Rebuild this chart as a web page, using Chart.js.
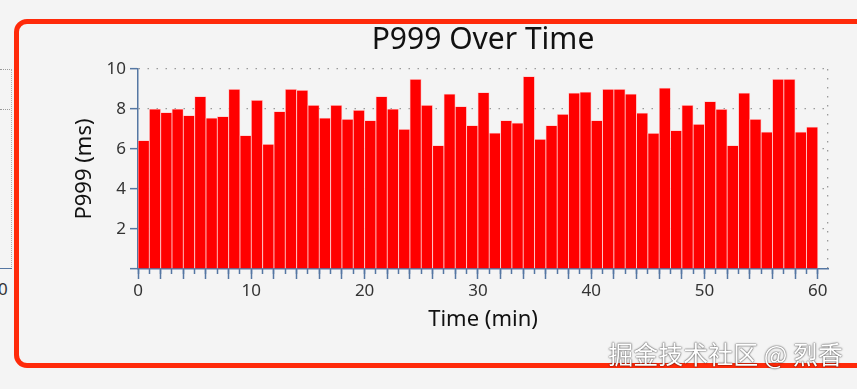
<!DOCTYPE html>
<html>
<head>
<meta charset="utf-8">
<script src="https://cdn.jsdelivr.net/npm/chart.js@4.4.1/dist/chart.umd.min.js"></script>
<style>
  html, body { margin: 0; padding: 0; background: #f4f4f4; overflow: hidden; }
  #wrap { position: relative; width: 857px; height: 389px; }
  #chP999 { position: absolute; left: 0; top: 0; }
  .frame { position: absolute; left: 14px; top: 19px; width: 880px; height: 339px;
           border: 5px solid #ff2a0a; border-radius: 13px; box-sizing: content-box; }
  .side-dot { position: absolute; left: 0; width: 10px; border-top: 1.5px dotted #9a9a9a; }
  .side-axis { position: absolute; left: 0; top: 268px; width: 12px; border-top: 1.5px solid #5577a3; }
  .side-vert { position: absolute; left: 11px; top: 69px; height: 200px; border-left: 1.5px dotted #b0b0b0; }
  .side-lbl { position: absolute; left: -2px; top: 277px; font: 17px "Noto Sans", sans-serif; color: #333; }
  .mark { position: absolute; right: 14px; top: 335px; font: 25px "Noto Sans CJK SC", sans-serif;
          color: #fff; text-shadow: 0 0 2px rgba(0,0,0,.7), 0 0 1px rgba(0,0,0,.6); }
</style>
</head>
<body>
<div id="wrap">
  <div class="side-dot" style="top:69px"></div>
  <div class="side-dot" style="top:109px"></div>
  <div class="side-vert"></div>
  <div class="side-axis"></div>
  <div class="side-lbl">0</div>
  <canvas id="chP999" width="857" height="389"></canvas>
  <div class="frame"></div>
  <div class="mark">掘金技术社区 @ 烈香</div>
</div>
<script>
var minutes = [0,1,2,3,4,5,6,7,8,9,10,11,12,13,14,15,16,17,18,19,
               20,21,22,23,24,25,26,27,28,29,30,31,32,33,34,35,36,37,38,39,
               40,41,42,43,44,45,46,47,48,49,50,51,52,53,54,55,56,57,58,59];
var p999 = [6.42,8.0,7.82,8.0,7.67,8.62,7.55,7.62,8.98,6.67,8.43,6.23,7.87,8.98,8.93,8.18,7.55,8.18,7.48,7.93,
            7.42,8.62,8.0,6.98,9.48,8.18,6.17,8.75,8.12,7.17,8.82,6.8,7.42,7.3,9.62,6.48,7.17,7.73,8.8,8.85,
            7.42,8.98,8.98,8.75,7.8,6.78,9.05,6.92,8.18,7.23,8.37,7.98,6.17,8.8,7.48,6.85,9.48,9.48,6.85,7.1];
var yTicks = [0,2,4,6,8,10];
var xLabels = [0,10,20,30,40,50,60];
var xMax = 60.9;

var axisBlue = '#5577a3';
var dotGrey = '#9a9a9a';
var fam = '"Noto Sans", sans-serif';

// each bar covers one minute [m, m+1]
var points = minutes.map(function(m, i){ return {x: m + 0.5, y: p999[i]}; });

new Chart(document.getElementById('chP999'), {
  type: 'bar',
  data: {
    datasets: [{
      data: points,
      xAxisID: 'x',
      yAxisID: 'y',
      backgroundColor: '#ff0000',
      borderColor: '#ffc4c4',
      borderWidth: 0.8,
      barPercentage: 1,
      categoryPercentage: 1
    }]
  },
  options: {
    responsive: false,
    animation: false,
    layout: {padding: {left: 0, right: 29, top: 0, bottom: 0}},
    plugins: {
      legend: {display: false},
      tooltip: {enabled: false},
      title: {
        display: true, text: 'P999 Over Time', fullSize: false,
        color: '#111', font: {family: fam, size: 30, weight: 'normal'},
        padding: {top: 22, bottom: 11}
      }
    },
    scales: {
      x: {
        type: 'linear', position: 'bottom', min: 0, max: xMax, offset: false,
        ticks: {
          stepSize: 2, autoSkip: false, maxRotation: 0, includeBounds: false, padding: 2,
          color: '#333', font: {family: fam, size: 17},
          callback: function(v){ return xLabels.indexOf(v) >= 0 ? String(v) : ''; }
        },
        grid: {drawOnChartArea: false, offset: false, tickLength: 10, tickColor: axisBlue, tickWidth: 1.5},
        border: {color: axisBlue, width: 1.5},
        title: {display: true, text: 'Time (min)', color: '#111',
                font: {family: fam, size: 22}, padding: {top: 0, bottom: 56}},
        afterFit: function(s){ s.height = 120; }
      },
      x2: {
        type: 'linear', position: 'bottom', weight: -1, min: 0, max: xMax, offset: false,
        ticks: {display: false, stepSize: 1, autoSkip: false, includeBounds: false},
        grid: {drawOnChartArea: false, offset: false, tickLength: 5, tickColor: axisBlue, tickWidth: 1.5},
        border: {display: false},
        afterFit: function(s){ s.height = 0; }
      },
      xr: {
        type: 'linear', position: 'bottom', weight: -2, min: 0, max: xMax, offset: false,
        afterBuildTicks: function(s){ s.ticks = [{value: xMax}]; },
        ticks: {display: false},
        grid: {drawTicks: false, offset: false, color: dotGrey, lineWidth: 1.3},
        border: {display: false, dash: [1.5, 7.5]},
        afterFit: function(s){ s.height = 0; }
      },
      y: {
        min: 0, max: 10,
        afterBuildTicks: function(s){ s.ticks = yTicks.map(function(v){ return {value: v}; }); },
        ticks: {
          padding: 4, color: '#333', font: {family: fam, size: 17},
          callback: function(v){ return v === 0 ? '' : String(v); }
        },
        grid: {
          color: function(c){ return c.tick && c.tick.value === 0 ? 'rgba(0,0,0,0)' : dotGrey; },
          lineWidth: 1.3, tickLength: 8, tickColor: axisBlue, tickWidth: 1.5
        },
        border: {color: axisBlue, width: 1.5, dash: [1.5, 7.5]},
        title: {display: true, text: 'P999 (ms)', color: '#111',
                font: {family: fam, size: 22}, padding: {top: 72, bottom: 0}},
        afterFit: function(s){ s.width = 138; }
      }
    }
  }
});
</script>
</body>
</html>
